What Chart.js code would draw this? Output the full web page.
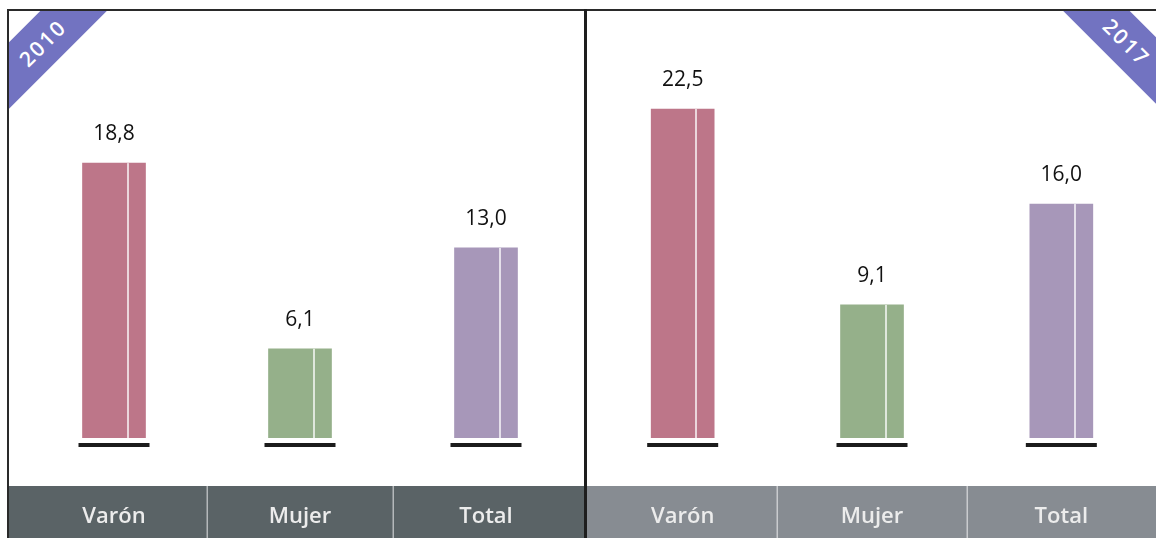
<!DOCTYPE html>
<html>
<head>
<meta charset="utf-8">
<script src="https://cdn.jsdelivr.net/npm/chart.js@4.4.1/dist/chart.umd.min.js"></script>
<style>
  html, body { margin: 0; padding: 0; background: #ffffff; }
  body { width: 1156px; height: 538px; position: relative; overflow: hidden; font-family: 'Open Sans', sans-serif; }
  canvas { position: absolute; top: 0; }
  #c2010 { left: 0; }
  #c2017 { left: 585px; }
  .line { position: absolute; background: #2a2a2a; z-index: 5; }
  .ribbonBox { position: absolute; overflow: hidden; z-index: 4; }
  .ribbon { position: absolute; width: 220px; height: 47px; background: #7273c1; color: #ffffff;
            font: 600 21px 'Open Sans', sans-serif; letter-spacing: 2px;
            display: flex; align-items: center; justify-content: center; }
</style>
</head>
<body>
<canvas id="c2010" width="585" height="538"></canvas>
<canvas id="c2017" width="571" height="538"></canvas>

<div class="line" style="left:7px; top:9px; width:1149px; height:2px;"></div>
<div class="line" style="left:7px; top:9px; width:2px; height:529px;"></div>
<div class="line" style="left:584px; top:9px; width:3px; height:529px; background:#1e1e1e;"></div>

<div class="ribbonBox" style="left:9px; top:11px; width:120px; height:120px;">
  <div class="ribbon" id="rib0" style="left:-77px; top:8px; transform: rotate(-45deg);"></div>
</div>
<div class="ribbonBox" style="left:1040px; top:11px; width:116px; height:120px;">
  <div class="ribbon" id="rib1" style="left:-23px; top:7px; transform: rotate(45deg);"></div>
</div>

<script>
// ---- data ----
const categories = ['Varón', 'Mujer', 'Total'];
const years = ['2010', '2017'];
const values2010 = [18.8, 6.1, 13.0];
const values2017 = [22.5, 9.1, 16.0];
const barColors = ['#bd7689', '#95b08a', '#a797b9'];

document.getElementById('rib0').textContent = years[0];
document.getElementById('rib1').textContent = years[1];

Chart.defaults.font.family = "'Open Sans', sans-serif";

const fmt = v => v.toFixed(1).replace('.', ',');

const decorPlugin = {
  id: 'decor',
  beforeDraw(chart, args, opts) {
    const ctx = chart.ctx;
    const xs = chart.scales.x;
    const top = opts.bandTop;
    const h = chart.height - top;
    ctx.save();
    ctx.fillStyle = opts.bandColor;
    ctx.fillRect(opts.bandLeft, top, opts.bandRight - opts.bandLeft, h);
    ctx.fillStyle = 'rgba(255,255,255,0.55)';
    for (let i = 0; i < categories.length - 1; i++) {
      const sx = (xs.getPixelForTick(i) + xs.getPixelForTick(i + 1)) / 2;
      ctx.fillRect(Math.round(sx) - 0.5, top, 1.5, h);
    }
    ctx.restore();
  },
  afterDatasetsDraw(chart) {
    const ctx = chart.ctx;
    const meta = chart.getDatasetMeta(0);
    const data = chart.data.datasets[0].data;
    ctx.save();
    meta.data.forEach((bar, i) => {
      const p = bar.getProps(['x', 'y', 'base', 'width'], true);
      const left = p.x - p.width / 2;
      // light vertical stripe inside bar
      ctx.fillStyle = 'rgba(255,255,255,0.7)';
      ctx.fillRect(Math.round(left + p.width * 0.7), p.y, 2, p.base - p.y);
      // black base line
      ctx.fillStyle = '#1c1c1c';
      ctx.fillRect(left - 4, p.base + 5, p.width + 8, 4);
      // value label
      ctx.fillStyle = '#111111';
      ctx.font = "21px 'Open Sans', sans-serif";
      ctx.textAlign = 'center';
      ctx.textBaseline = 'middle';
      ctx.fillText(fmt(data[i]), p.x, p.y - 29);
    });
    ctx.restore();
  }
};

function makeChart(id, values, padLeft, padRight, band) {
  return new Chart(document.getElementById(id), {
    type: 'bar',
    data: {
      labels: categories,
      datasets: [{
        data: values,
        backgroundColor: barColors,
        borderWidth: 0,
        barThickness: 63
      }]
    },
    options: {
      responsive: false,
      animation: false,
      devicePixelRatio: 1,
      layout: { padding: { top: 14, left: padLeft, right: padRight, bottom: 0 } },
      plugins: {
        legend: { display: false },
        tooltip: { enabled: false },
        decor: band
      },
      scales: {
        y: { display: false, min: 0, max: 29 },
        x: {
          grid: { display: false, drawTicks: false },
          border: { display: false },
          ticks: {
            color: '#ececec',
            font: { size: 22, weight: '600' },
            padding: 66,
            maxRotation: 0
          },
          afterFit(scale) { scale.height = 100; }
        }
      }
    },
    plugins: [decorPlugin]
  });
}

makeChart('c2010', values2010, 21, 6, { bandTop: 486, bandLeft: 9, bandRight: 585, bandColor: '#5a6366' });
makeChart('c2017', values2017, 0, 0, { bandTop: 486, bandLeft: 0, bandRight: 571, bandColor: '#878c92' });
</script>
</body>
</html>
